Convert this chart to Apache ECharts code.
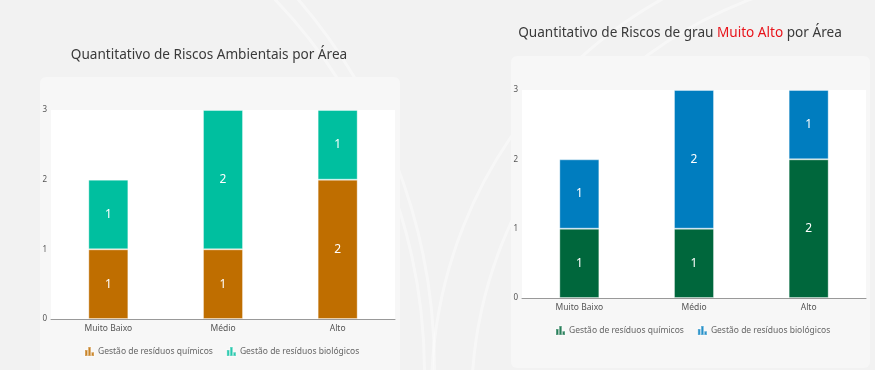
<!DOCTYPE html>
<html><head><meta charset="utf-8">
<script src="https://cdn.jsdelivr.net/npm/echarts@6/dist/echarts.min.js"></script>
<style>
html,body{margin:0;padding:0;width:875px;height:370px;overflow:hidden;background:#f2f2f2;position:relative;font-family:"Noto Sans",sans-serif;}
.arc{position:absolute;border-radius:50%;border:3px solid rgba(255,255,255,0.4);}
.card{position:absolute;background:#f7f7f7;border-radius:6px;}
#c1{position:absolute;left:0;top:0;width:437px;height:370px;}
#c2{position:absolute;left:437px;top:0;width:438px;height:370px;}
</style></head>
<body>
<div class="arc" style="left:430px;top:-60px;width:900px;height:900px;"></div>
<div class="arc" style="left:470px;top:-30px;width:860px;height:860px;"></div>
<div class="arc" style="left:-700px;top:-200px;width:1130px;height:1130px;"></div>
<div class="arc" style="left:-660px;top:-170px;width:1080px;height:1080px;"></div>
<div class="card" style="left:40px;top:77px;width:360px;height:300px;"></div>
<div class="card" style="left:511px;top:56px;width:359px;height:312px;"></div>
<div id="c1"></div>
<div id="c2"></div>
<script>
const categories = ['Muito Baixo', 'Médio', 'Alto'];
const seriesNames = ['Gestão de resíduos químicos', 'Gestão de resíduos biológicos'];
const leftQuimicos = [1, 1, 2];
const leftBiologicos = [1, 2, 1];
const rightQuimicos = [1, 1, 2];
const rightBiologicos = [1, 2, 1];
const yTicks = [0, 1, 2, 3];
const leftColors = ['#bf6e00', '#00bf9f'];
const rightColors = ['#00673c', '#007dbf'];

const iconPath = 'path://M0,4h3.4v8h-3.4z M4.3,0h3.4v12h-3.4z M8.6,7h3.4v5h-3.4z';
const font = '"Noto Sans", sans-serif';

function makeOption(cfg) {
  return {
    animation: false,
    title: {
      text: cfg.title,
      left: cfg.titleX, top: cfg.titleY, textAlign: 'center',
      textStyle: {fontFamily: font, fontSize: 13.6, fontWeight: 'normal', color: '#3a3a3a',
        rich: {r: {fontFamily: font, fontSize: 13.6, color: '#e8141b'}}}
    },
    legend: {
      top: cfg.legendY, left: cfg.legendX,
      itemWidth: 9, itemHeight: 10, itemGap: 13, icon: iconPath,
      textStyle: {fontFamily: font, fontSize: 8.5, color: '#666', padding: [0, 0, 0, -1]},
      data: seriesNames
    },
    grid: {left: cfg.grid[0], right: cfg.grid[1], top: cfg.grid[2], bottom: cfg.grid[3],
      show: true, backgroundColor: '#ffffff', borderWidth: 0},
    xAxis: {
      type: 'category', data: categories,
      axisLine: {lineStyle: {color: '#999', width: 1}},
      axisTick: {show: false},
      axisLabel: {fontFamily: font, fontSize: 8.5, color: '#555', margin: 5}
    },
    yAxis: {
      type: 'value', min: yTicks[0], max: yTicks[yTicks.length - 1], interval: 1,
      axisLine: {show: false}, axisTick: {show: false}, splitLine: {show: false},
      axisLabel: {fontFamily: font, fontSize: 8, color: '#555', margin: 4}
    },
    series: [
      {name: seriesNames[0], type: 'bar', stack: 's', data: cfg.a, barWidth: 40,
        itemStyle: {color: cfg.colors[0], borderColor: 'rgba(255,255,255,0.35)', borderWidth: 1},
        label: {show: true, position: 'inside', color: '#fff', fontFamily: font, fontSize: 12}},
      {name: seriesNames[1], type: 'bar', stack: 's', data: cfg.b, barWidth: 40,
        itemStyle: {color: cfg.colors[1], borderColor: 'rgba(255,255,255,0.35)', borderWidth: 1},
        label: {show: true, position: 'inside', color: '#fff', fontFamily: font, fontSize: 12}}
    ]
  };
}

const c1 = echarts.init(document.getElementById('c1'), null, {renderer: 'canvas'});
c1.setOption(makeOption({
  title: 'Quantitativo de Riscos Ambientais por Área',
  titleX: 204, titleY: 43, legendY: 341, legendX: 79,
  grid: [51, 42, 110, 51],
  a: leftQuimicos, b: leftBiologicos, colors: leftColors
}));

const c2 = echarts.init(document.getElementById('c2'), null, {renderer: 'canvas'});
c2.setOption(makeOption({
  title: 'Quantitativo de Riscos de grau {r|Muito Alto} por Área',
  titleX: 238, titleY: 21, legendY: 320, legendX: 113,
  grid: [85, 9, 90, 72],
  a: rightQuimicos, b: rightBiologicos, colors: rightColors
}));
</script>
</body></html>
